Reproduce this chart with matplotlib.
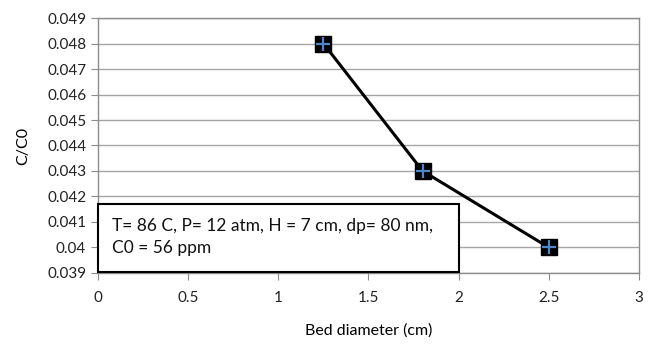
import numpy as np
import matplotlib.pyplot as plt
from matplotlib.patches import Rectangle

diam = [1.25, 1.8, 2.5]
ratio = [0.048, 0.043, 0.040]
xticks = [0, 0.5, 1, 1.5, 2, 2.5, 3]
xtick_labels = ['0', '0.5', '1', '1.5', '2', '2.5', '3']
yticks = [0.039, 0.04, 0.041, 0.042, 0.043, 0.044, 0.045, 0.046, 0.047, 0.048, 0.049]
ytick_labels = ['0.039', '0.04', '0.041', '0.042', '0.043', '0.044', '0.045',
                '0.046', '0.047', '0.048', '0.049']
note = 'T= 86 C, P= 12 atm, H = 7 cm, dp= 80 nm,\nC0 = 56 ppm'

plt.rcParams['font.family'] = ['Lato', 'DejaVu Sans']

fig = plt.figure(figsize=(6.51, 3.49), dpi=100)
ax = fig.add_axes([0.1505, 0.2178, 0.8311, 0.7306])

ax.plot(diam, ratio, color='black', lw=2.2, zorder=3)
ax.plot(diam, ratio, ls='none', marker='s', ms=11.5, mfc='black', mec='black', zorder=4)
ax.plot(diam, ratio, ls='none', marker='+', ms=10, mew=1.6, color='#4a86c8', zorder=5)

ax.set_xlim(0, 3)
ax.set_ylim(0.039, 0.049)
ax.set_xticks(xticks)
ax.set_xticklabels(xtick_labels)
ax.set_yticks(yticks)
ax.set_yticklabels(ytick_labels)
ax.grid(axis='y', color='#a6a6a6', lw=1)
ax.set_axisbelow(True)
for s in ax.spines.values():
    s.set_color('#8c8c8c')
    s.set_linewidth(1)
ax.tick_params(direction='out', length=5, color='#8c8c8c', labelsize=11, labelcolor='#222222')
ax.tick_params(axis='x', pad=8)

ax.set_xlabel('Bed diameter (cm)', fontsize=11.5, labelpad=13)
ax.set_ylabel('C/C0', fontsize=11.5, labelpad=12)

# annotation box
ax.add_patch(Rectangle((0, 0.03904), 2.0, 0.00267, fc='white', ec='black', lw=1.5,
                       zorder=5, clip_on=False))
ax.text(0.078, 0.04041, note, fontsize=12.5, va='center', ha='left', linespacing=1.45,
        zorder=6, color='#111111')

fig.savefig('out.png', dpi=100)
